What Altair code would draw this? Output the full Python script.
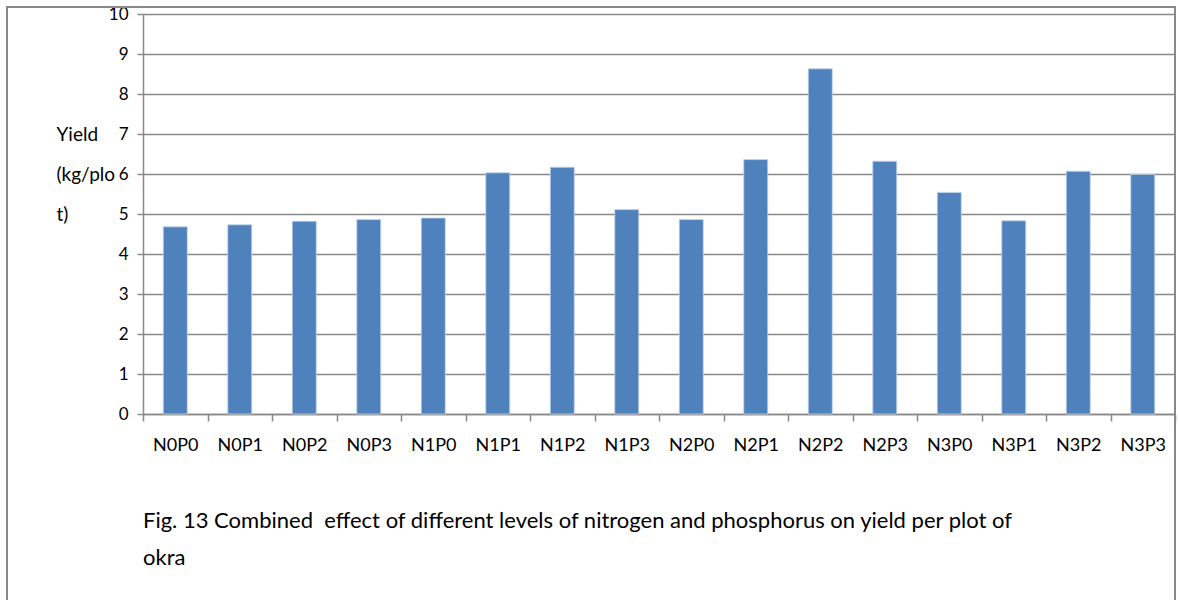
import altair as alt
import pandas as pd

treatments = ["N0P0", "N0P1", "N0P2", "N0P3", "N1P0", "N1P1", "N1P2", "N1P3",
              "N2P0", "N2P1", "N2P2", "N2P3", "N3P0", "N3P1", "N3P2", "N3P3"]
yields = [4.68, 4.73, 4.82, 4.86, 4.90, 6.03, 6.17, 5.11,
          4.86, 6.36, 8.63, 6.32, 5.54, 4.83, 6.07, 5.99]
y_title = ["Yield", "(kg/plo", "t)"]
caption = ["Fig. 13 Combined\u00a0 effect of different levels of nitrogen and phosphorus on yield per plot of",
           "okra"]

df = pd.DataFrame({"treatment": treatments, "yield": yields})
FONT = "Lato"
GRID = "#898989"

bars = alt.Chart(df).mark_bar(size=24, color="#4F81BD", stroke="#C5D5EA", strokeWidth=0.8).encode(
    x=alt.X("treatment:N", sort=treatments, title=None,
            scale=alt.Scale(paddingInner=0, paddingOuter=0),
            axis=alt.Axis(labelAngle=0, tickBand="extent", tickSize=7, tickColor=GRID,
                          domainColor=GRID, domainWidth=1.5, tickWidth=1.5,
                          labelFont=FONT, labelFontSize=18, labelColor="#000000",
                          labelPadding=15)),
    y=alt.Y("yield:Q", scale=alt.Scale(domain=[0, 10], nice=False),
            axis=alt.Axis(values=list(range(0, 11)), grid=True, gridColor=GRID, gridWidth=1.5,
                          tickSize=6, tickColor=GRID, tickWidth=1.5,
                          domainColor=GRID, domainWidth=1.5,
                          labelFont=FONT, labelFontSize=17, labelColor="#000000", labelPadding=9,
                          title=y_title, titleAngle=0, titleFont=FONT, titleFontSize=19,
                          titleFontWeight="normal", titleColor="#000000",
                          titleAlign="left", titleBaseline="middle",
                          titleX=-87, titleY=120, titleLineHeight=40)),
)

border = alt.Chart(pd.DataFrame({"k": [0]})).mark_rect(
    filled=False, stroke=GRID, strokeWidth=2, clip=False
).encode(x=alt.value(-136), x2=alt.value(1032), y=alt.value(-7), y2=alt.value(620))

cap = alt.Chart(pd.DataFrame({"t": [caption]})).mark_text(
    align="left", baseline="middle", font=FONT, fontSize=22, lineHeight=37, color="#000000"
).encode(x=alt.value(0), y=alt.value(507), text="t")

chart = alt.layer(border, bars, cap).properties(
    width=1032, height=400,
    autosize=alt.AutoSizeParams(type="none"),
    padding={"left": 143, "top": 14, "right": 3, "bottom": 186},
).configure_view(stroke=None).configure(background="white")

chart.save("out.html", embed_options={"renderer": "svg", "actions": False})
